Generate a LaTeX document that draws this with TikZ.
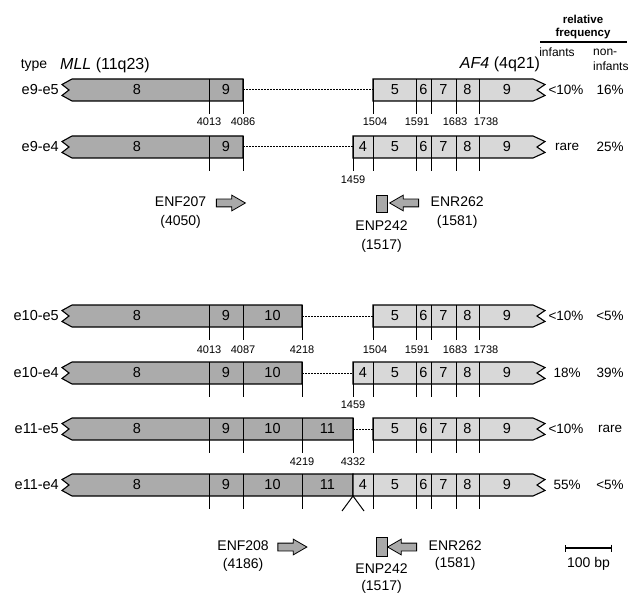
\documentclass[tikz,border=0pt]{standalone}
\usepackage{fontspec}
\setmainfont{Liberation Sans}
\usetikzlibrary{positioning, arrows.meta, shapes.arrows}
\definecolor{mllGrey}{HTML}{ABABAB}
\definecolor{afGrey}{HTML}{D8D8D8}
\definecolor{primerGrey}{HTML}{A9A9A9}
\newcommand{\fsz}[1]{\fontsize{#1}{#1}\selectfont}
% fusion halves: #1 = row y, #2 = breakpoint x, #3 = exon centres/numbers
\newcommand{\mllpart}[3]{%
  \draw[mllbox] (72,#1-11) -- (#2,#1-11) -- (#2,#1+11) -- (72,#1+11)
    -- (62,#1+5.5) -- (69,#1) -- (62,#1-5.5) -- cycle;
  \coordinate (mllend-#1) at (#2,#1);
  \foreach \cx/\num in {#3} \node[exnum] (mll\num-#1) at (\cx,#1) {\num};}
\newcommand{\afpart}[3]{%
  \draw[afbox] (#2,#1-11) -- (533,#1-11) -- (545,#1-5.5) -- (537,#1)
    -- (545,#1+5.5) -- (533,#1+11) -- (#2,#1+11) -- cycle;
  \coordinate (afstart-#1) at (#2,#1);
  \foreach \cx/\num in {#3} \node[exnum] (af\num-#1) at (\cx,#1) {\num};}
\newcommand{\exonticks}[2]{\foreach \tx in {#2} \draw[tickline] (\tx,#1-11) -- (\tx,#1+24);}

\begin{document}
\begin{tikzpicture}[x=1pt, y=-1pt,
    mllbox/.style={draw, line width=1.1pt, fill=mllGrey},
    afbox/.style={draw, line width=1.1pt, fill=afGrey},
    tickline/.style={line width=1pt},
    junction/.style={line width=1pt, dash pattern=on 1.5pt off 1.5pt},
    exnum/.style={font=\fsz{14.5}, inner sep=0pt},
    rowlab/.style={font=\fsz{14.5}, anchor=east, inner sep=0pt},
    posnum/.style={font=\fsz{11}, inner sep=0pt},
    freq/.style={font=\fsz{13.5}, inner sep=0pt},
    primerlab/.style={font=\fsz{14}, inner sep=0.5pt, text height=10pt, text depth=3pt},
    fwd/.style={single arrow, draw, thick, fill=primerGrey, minimum height=29pt,
      inner sep=3.5pt, single arrow head extend=4pt, single arrow tip angle=60},
    rev/.style={fwd, shape border rotate=180},
    probe/.style={draw, thick, fill=primerGrey, minimum width=11pt, minimum height=17pt, inner sep=0pt}]
  \useasboundingbox (0,0) rectangle (636,593);

  % header
  \node[font=\fsz{14}, inner sep=0pt] (type) at (34,65) {type};
  \node[font=\fsz{16}, anchor=west, inner sep=0pt] (mll) at (60,65) {\textit{MLL} (11q23)};
  \node[font=\fsz{16}, inner sep=0pt] (af4) at (500,64) {\textit{AF4} (4q21)};
  \node[font=\bfseries\fontsize{11.5}{13}\selectfont, align=center, inner sep=0pt] (relfreq) at (583,27) {relative\\frequency};
  \draw[line width=1.2pt] (540,42) -- (627,42);
  \node[font=\fsz{12}, inner sep=0pt] (inf) at (557,52) {infants};
  \node[font=\fontsize{12}{15}\selectfont, align=left, anchor=west, inner sep=0pt] (noninf) at (593,60) {non-\\infants};

  % e9-e5
  \mllpart{90}{243}{137/8, 226/9}
  \afpart{90}{373}{395/5, 423.5/6, 443.5/7, 467.5/8, 507/9}
  \exonticks{90}{209, 243, 373, 416, 431, 456, 479}
  \draw[junction] (mllend-90) -- (afstart-90);
  \node[rowlab] (row1) at (59,90) {e9-e5};
  \node[freq] (inf1) at (566,90) {<10\%};
  \node[freq] (non1) at (610,90) {16\%};
  \foreach \px/\val in {209/4013, 243/4086, 375/1504, 417/1591, 455/1683, 486/1738}
    \node[posnum] (p\val-1) at (\px,122) {\val};

  % e9-e4
  \mllpart{147}{243}{137/8, 226/9}
  \afpart{147}{353}{363/4, 395/5, 423.5/6, 443.5/7, 467.5/8, 507/9}
  \exonticks{147}{209, 243, 353, 373, 416, 431, 456, 479}
  \draw[junction] (mllend-147) -- (afstart-147);
  \node[rowlab] (row2) at (59,147) {e9-e4};
  \node[freq] (inf2) at (567,147) {rare};
  \node[freq] (non2) at (610,147) {25\%};
  \node[posnum] (p1459-2) at (353,180) {1459};

  % primers, first set
  \node[fwd] (enf207) at (227.5,203) {};
  \node[primerlab, left=9pt of enf207] (enf207n) {ENF207};
  \node[primerlab, below=5pt of enf207n] (enf207p) {(4050)};
  \node[probe] (enp242) at (381.5,203.5) {};
  \node[primerlab, below=7.5pt of enp242] (enp242n) {ENP242};
  \node[primerlab, below=5pt of enp242n] (enp242p) {(1517)};
  \node[rev] (enr262) at (407.5,203) {};
  \node[primerlab, right=11pt of enr262] (enr262n) {ENR262};
  \node[primerlab, below=5pt of enr262n] (enr262p) {(1581)};

  % e10-e5
  \mllpart{316}{302}{137/8, 226/9, 272.5/10}
  \afpart{316}{373}{395/5, 423.5/6, 443.5/7, 467.5/8, 507/9}
  \exonticks{316}{209, 243, 302, 373, 416, 431, 456, 479}
  \draw[junction] (mllend-316) -- (afstart-316);
  \node[rowlab] (row3) at (59,316) {e10-e5};
  \node[freq] (inf3) at (566,316) {<10\%};
  \node[freq] (non3) at (610,316) {<5\%};
  \foreach \px/\val in {209/4013, 243/4087, 302/4218, 375/1504, 417/1591, 455/1683, 486/1738}
    \node[posnum] (p\val-3) at (\px,350) {\val};

  % e10-e4
  \mllpart{373}{302}{137/8, 226/9, 272.5/10}
  \afpart{373}{353}{363/4, 395/5, 423.5/6, 443.5/7, 467.5/8, 507/9}
  \exonticks{373}{209, 243, 302, 353, 373, 416, 431, 456, 479}
  \draw[junction] (mllend-373) -- (afstart-373);
  \node[rowlab] (row4) at (59,373) {e10-e4};
  \node[freq] (inf4) at (567,373) {18\%};
  \node[freq] (non4) at (610,373) {39\%};
  \node[posnum] (p1459-4) at (353,405) {1459};

  % e11-e5
  \mllpart{429}{353}{137/8, 226/9, 272.5/10, 327.5/11}
  \afpart{429}{373}{395/5, 423.5/6, 443.5/7, 467.5/8, 507/9}
  \exonticks{429}{209, 243, 302, 353, 373, 416, 431, 456, 479}
  \draw[junction] (mllend-429) -- (afstart-429);
  \node[rowlab] (row5) at (59,429) {e11-e5};
  \node[freq] (inf5) at (566,429) {<10\%};
  \node[freq] (non5) at (610,429) {rare};
  \node[posnum] (p4219-5) at (302,462) {4219};
  \node[posnum] (p4332-5) at (353,462) {4332};

  % e11-e4
  \mllpart{485}{353}{137/8, 226/9, 272.5/10, 327.5/11}
  \afpart{485}{353}{363/4, 395/5, 423.5/6, 443.5/7, 467.5/8, 507/9}
  \exonticks{485}{209, 243, 302, 373, 416, 431, 456, 479}
  \coordinate (brk) at (353,496);
  \coordinate (brkl) at (342,511);
  \coordinate (brkr) at (364,511);
  \draw[tickline] (brkl) -- (brk) -- (brkr);
  \node[rowlab] (row6) at (59,485) {e11-e4};
  \node[freq] (inf6) at (567,485) {55\%};
  \node[freq] (non6) at (610,485) {<5\%};

  % primers, second set
  \node[fwd] (enf208) at (289,547) {};
  \node[primerlab, left=8pt of enf208] (enf208n) {ENF208};
  \node[primerlab, below=4pt of enf208n] (enf208p) {(4186)};
  \node[probe, minimum height=19pt] (enp242b) at (381.5,546.5) {};
  \node[primerlab, below=6pt of enp242b] (enp242bn) {ENP242};
  \node[primerlab, below=3pt of enp242bn] (enp242bp) {(1517)};
  \node[rev] (enr262b) at (405.5,547) {};
  \node[primerlab, right=11pt of enr262b] (enr262bn) {ENR262};
  \node[primerlab, below=3pt of enr262bn] (enr262bp) {(1581)};

  % scale bar
  \coordinate (sbl) at (565,548);
  \coordinate (sbr) at (612,548);
  \draw[line width=1.2pt, {Bar[width=7pt]}-{Bar[width=7pt]}] (sbl) -- (sbr);
  \node[primerlab] (sblab) at (588.5,564) {100 bp};
\end{tikzpicture}
\end{document}
